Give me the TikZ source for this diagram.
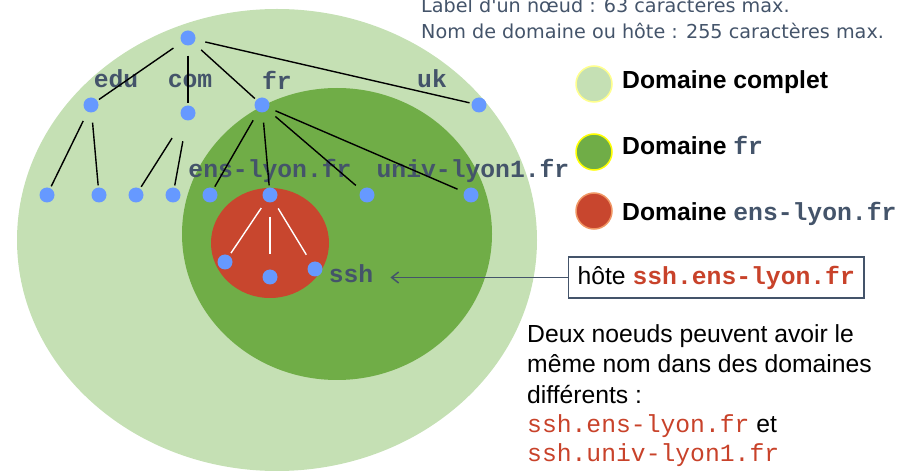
\documentclass[tikz,border=0pt]{standalone}
\usepackage{fontspec}
\setmainfont{Liberation Sans}
\newfontfamily\codefont{Liberation Mono}
\newfontfamily\notefont{DejaVu Sans}
\usetikzlibrary{arrows.meta,positioning}
\definecolor{domall}{RGB}{197,224,180}
\definecolor{domfr}{RGB}{112,173,71}
\definecolor{domens}{RGB}{200,70,46}
\definecolor{dotblue}{RGB}{102,153,255}
\definecolor{slate}{RGB}{68,84,106}
\definecolor{hostred}{RGB}{200,66,42}
\definecolor{rimpale}{RGB}{255,255,140}
\definecolor{rimyellow}{RGB}{255,255,0}
\definecolor{rimorange}{RGB}{240,150,100}
\newcommand{\bigsize}{\fontsize{24.7}{29.6}\selectfont}
\newcommand{\cd}[1]{{\codefont\bfseries\color{slate}#1}}
\newcommand{\hostcd}[1]{{\codefont\bfseries\color{hostred}#1}}
\newcommand{\hostplain}[1]{{\codefont\color{hostred}#1}}
\tikzset{
  dot/.style    ={circle,fill=dotblue,inner sep=0pt,minimum size=15pt},
  branch/.style ={line width=1.4pt,shorten <=10pt,shorten >=2pt},
  lbl/.style    ={font=\codefont\bfseries\bigsize,text=slate,inner sep=0pt,anchor=base},
  key/.style    ={circle,minimum size=36pt,inner sep=0pt,line width=1.5pt},
  keytxt/.style ={font=\bfseries\bigsize,inner sep=0pt,anchor=base west},
  hostbox/.style={draw=slate,line width=1.3pt,anchor=west,font=\bigsize,
                  minimum height=41pt,inner xsep=9pt,inner ysep=0pt},
  note/.style   ={font=\bigsize,inner sep=0pt,anchor=base west},
  limit/.style  ={font=\notefont\fontsize{19.2}{23}\selectfont,text=slate,
                  inner sep=0pt,anchor=base west},
  ptr/.style    ={draw=slate,line width=1.3pt,shorten >=17pt,
                  -{Straight Barb[length=7pt,width=11pt,line width=1.5pt]}},
}

\begin{document}
\begin{tikzpicture}[x=1pt,y=-1pt]
\clip (0,0) rectangle (914,473);
% nested domains
\fill[domall] (277,240) ellipse [x radius=260,y radius=231];
\fill[domfr]  (337,234) ellipse [x radius=155,y radius=146];
\fill[domens] (270,243) ellipse [x radius=59,y radius=55];

% labels of the tree
\node[lbl] (edu-l) at (116,88) {edu};
\node[lbl] (com-l) at (190,88) {com};
\node[lbl] (fr-l)  at (277,90) {fr};
\node[lbl] (uk-l)  at (432,88) {uk};
\node[lbl] (enslyon-l)  at (270,178) {ens-lyon.fr};
\node[lbl] (univlyon-l) at (473,178) {univ-lyon1.fr};
\node[lbl] (ssh-l) at (351,283) {ssh};

% tree nodes
\node[dot] (root) at (188,38) {};
\node[dot] (edu) at (91,105) {};
\node[dot] (com) at (188,113) {};
\node[dot] (fr)  at (262,105) {};
\node[dot] (uk)  at (479,105) {};
\node[dot] (edu1) at (47,195) {};
\node[dot] (edu2) at (99,195) {};
\node[dot] (com1) at (136,195) {};
\node[dot] (com2) at (173,195) {};
\node[dot] (fr1)  at (210,195) {};
\node[dot] (enslyon)  at (270,195) {};
\node[dot] (fr3)  at (367,195) {};
\node[dot] (univlyon) at (471,195) {};
\node[dot] (ens1) at (225,262) {};
\node[dot] (ens2) at (270,277) {};
\node[dot] (ssh)  at (315,269) {};

% branches
\draw[branch] (root) -- (edu);  \draw[branch] (root) -- (com);
\draw[branch] (root) -- (fr);   \draw[branch] (root) -- (uk);
\draw[branch] (edu) -- (edu1);  \draw[branch] (edu) -- (edu2);
\draw[branch,shorten <=22pt] (com) -- (com1);
\draw[branch,shorten <=21pt] (com) -- (com2);
\draw[branch] (fr) -- (fr1);    \draw[branch] (fr) -- (enslyon);
\draw[branch,shorten >=7pt] (fr) -- (fr3);
\draw[branch,shorten <=7pt,shorten >=7pt] (fr) -- (univlyon);
\draw[branch,white,shorten <=8pt,shorten >=3pt] (enslyon) -- (ens1);
\draw[branch,white,shorten <=14pt,shorten >=15pt] (enslyon) -- (ens2);
\draw[branch,white,shorten <=8pt,shorten >=9pt] (enslyon) -- (ssh);

% size limits
\node[limit] (lim1) at (421,13) {Label d'un nœud : 63 caractères max.};
\node[limit] (lim2) at (421,39) {Nom de domaine ou hôte : 255 caractères max.};

% legend
\node[key,fill=domall,draw=rimpale]   (key-all) at (594,84) {};
\node[key,fill=domfr,draw=rimyellow]  (key-fr)  at (594,152) {};
\node[key,fill=domens,draw=rimorange] (key-ens) at (594,211) {};
\node[keytxt] (key-all-t) at (622,89)  {Domaine complet};
\node[keytxt] (key-fr-t)  at (622,155) {Domaine \cd{fr}};
\node[keytxt] (key-ens-t) at (622,221) {Domaine \cd{ens-lyon.fr}};

% host
\node[hostbox] (host) at (568,277.5) {hôte \hostcd{ssh.ens-lyon.fr}};
\draw[ptr] (host.west) -- (ssh-l.east |- host.west);

% remark
\node[note] (note1) at (527,343) {Deux noeuds peuvent avoir le};
\node[note] (note2) at (527,373) {même nom dans des domaines};
\node[note] (note3) at (527,403) {différents :};
\node[note] (note4) at (527,432) {\hostplain{ssh.ens-lyon.fr} et};
\node[note] (note5) at (527,461) {\hostplain{ssh.univ-lyon1.fr}};
\end{tikzpicture}
\end{document}
